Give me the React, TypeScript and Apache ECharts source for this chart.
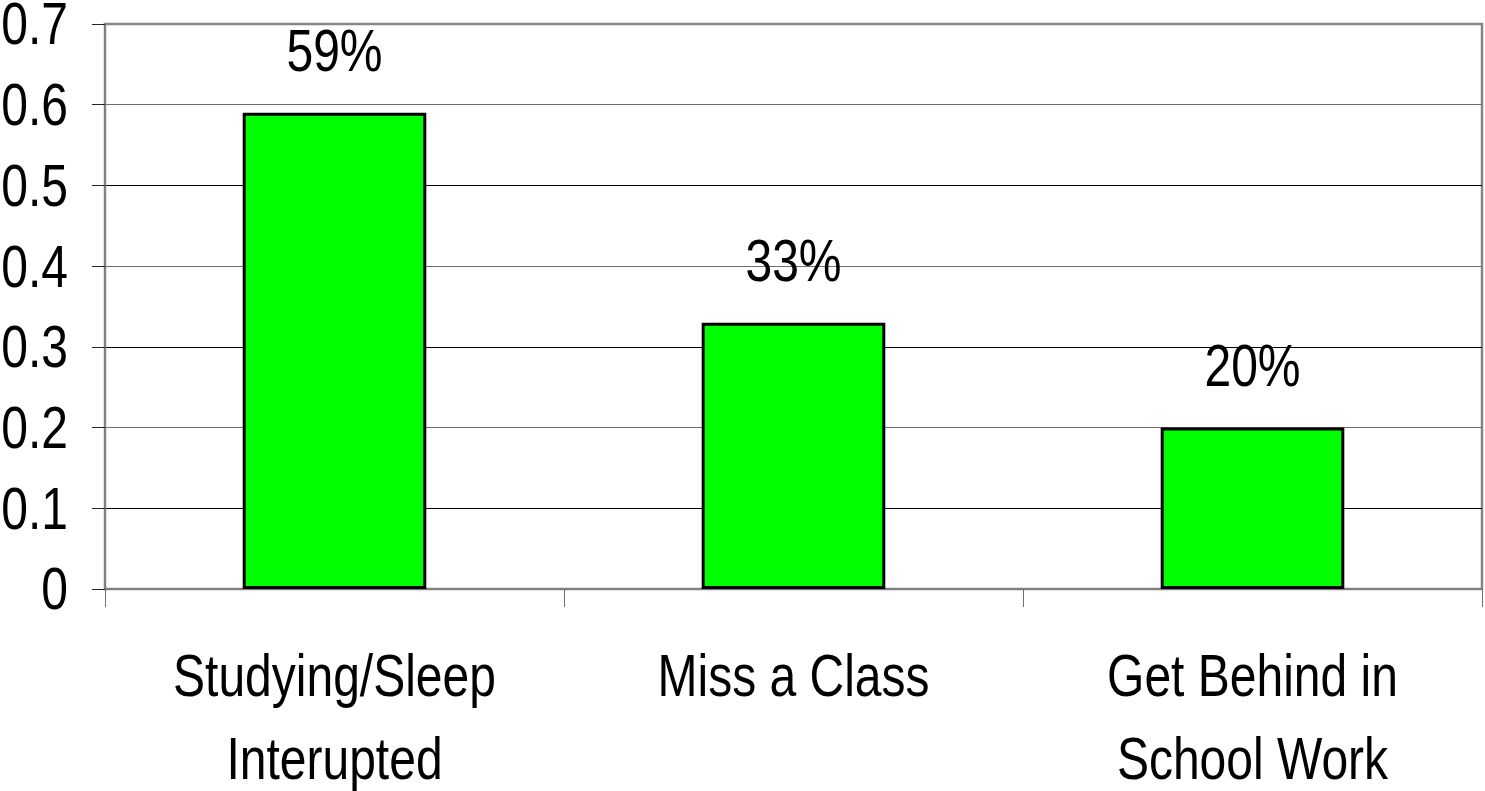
import React, { useEffect, useRef } from "react";
import * as echarts from "echarts";

// Survey results: share of respondents reporting each consequence
const categories = [
  "Studying/Sleep\nInterupted",
  "Miss a Class",
  "Get Behind in\nSchool Work",
];
const shares = [0.59, 0.33, 0.2];
const yTickValues = [0, 0.1, 0.2, 0.3, 0.4, 0.5, 0.6, 0.7];
const yTickLabels = ["0", "0.1", "0.2", "0.3", "0.4", "0.5", "0.6", "0.7"];

const FONT = "'Liberation Sans', Arial, sans-serif";
const FONT_SIZE = 60;
// Labels are set in a condensed face; squeeze the regular sans horizontally.
const CONDENSE = 0.8;

const percent = (v: number) => `${Math.round(v * 100)}%`;

export default function App() {
  const ref = useRef<HTMLDivElement>(null);

  useEffect(() => {
    if (!ref.current) return;
    const chart = echarts.init(ref.current, null, { renderer: "svg" });
    chart.setOption({
      animation: false,
      backgroundColor: "#ffffff",
      grid: {
        left: 105,
        right: 3,
        top: 24,
        bottom: 202,
        show: true,
        borderColor: "#868686",
        borderWidth: 2.5,
        containLabel: false,
        outerBoundsMode: "none",
      },
      xAxis: {
        type: "category",
        data: categories,
        axisLine: { show: true, lineStyle: { color: "#808080", width: 2 } },
        axisTick: {
          show: true,
          alignWithLabel: false,
          length: 18,
          lineStyle: { color: "#707070", width: 1 },
        },
        axisLabel: { show: false },
        splitLine: { show: false },
      },
      yAxis: {
        type: "value",
        min: yTickValues[0],
        max: yTickValues[yTickValues.length - 1],
        interval: 0.1,
        axisLine: { show: true, lineStyle: { color: "#808080", width: 2 } },
        axisTick: { show: true, length: 13, lineStyle: { color: "#222", width: 1 } },
        axisLabel: { show: false },
        splitLine: {
          show: true,
          lineStyle: {
            width: 1.2,
            color: ["#808080", "#000", "#6e6e6e", "#000", "#6e6e6e", "#000", "#6e6e6e", "#868686"],
          },
        },
      },
      series: [
        {
          type: "bar",
          data: shares,
          barWidth: "40%",
          itemStyle: { color: "#00ff00", borderColor: "#000", borderWidth: 3 },
          label: { show: false },
        },
      ],
    });

    // Texts placed through the chart's own scales, condensed horizontally.
    const textStyle = (text: string, align: string, verticalAlign: string, lineHeight: number) => ({
      text,
      fontSize: FONT_SIZE,
      fontFamily: FONT,
      lineHeight,
      fill: "#000",
      align,
      verticalAlign,
      textAlign: align,
      textVerticalAlign: verticalAlign,
    });

    const axisBottom = (chart.convertToPixel({ gridIndex: 0 }, [0, 0]) as number[])[1];
    const graphics: any[] = [];

    yTickValues.forEach((v, i) => {
      const y = chart.convertToPixel({ yAxisIndex: 0 }, v) as number;
      graphics.push({
        type: "text",
        x: 68,
        y,
        scaleX: CONDENSE,
        silent: true,
        style: textStyle(yTickLabels[i], "right", "middle", 44),
      });
    });

    categories.forEach((c, i) => {
      const cx = (chart.convertToPixel({ gridIndex: 0 }, [i, 0]) as number[])[0];
      graphics.push({
        type: "text",
        x: cx,
        y: axisBottom + 45,
        scaleX: CONDENSE,
        silent: true,
        style: textStyle(c, "center", "top", 83),
      });
    });

    shares.forEach((v, i) => {
      const [cx, top] = chart.convertToPixel({ gridIndex: 0 }, [i, v]) as number[];
      graphics.push({
        type: "text",
        x: cx,
        y: top - 62,
        scaleX: CONDENSE,
        silent: true,
        style: textStyle(percent(v), "center", "middle", 60),
      });
    });

    chart.setOption({ graphic: graphics });

    return () => chart.dispose();
  }, []);

  return (
    <div
      ref={ref}
      style={{ position: "absolute", left: 0, top: 0, width: 1485, height: 791 }}
    />
  );
}
